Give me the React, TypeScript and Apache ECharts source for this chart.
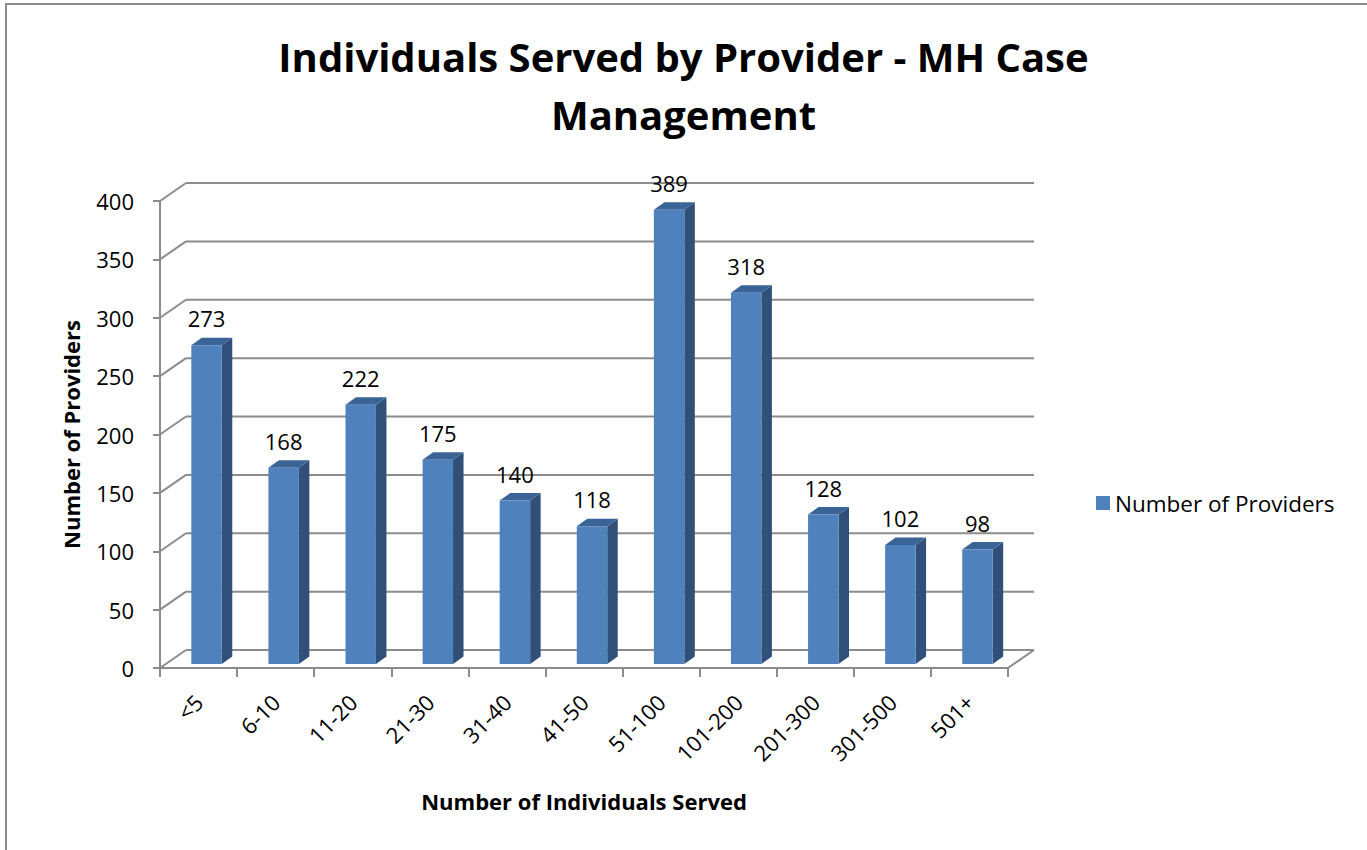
import React, { useEffect, useRef } from "react";
import * as echarts from "echarts";

const categories = ["<5", "6-10", "11-20", "21-30", "31-40", "41-50", "51-100", "101-200", "201-300", "301-500", "501+"];
const providers = [273, 168, 222, 175, 140, 118, 389, 318, 128, 102, 98];
const yTicks = [0, 50, 100, 150, 200, 250, 300, 350, 400];

const seriesName = "Number of Providers";
const titleText = "Individuals Served by Provider - MH Case\nManagement";
const xAxisTitle = "Number of Individuals Served";
const yAxisTitle = "Number of Providers";

const FONT = "'Open Sans', Lato, sans-serif";
const GRID_COLOR = "#8c8c8c";
const DX = 26;
const DY = -18;

export default function App() {
  const ref = useRef<HTMLDivElement>(null);
  useEffect(() => {
    if (!ref.current) return;
    const chart = echarts.init(ref.current, undefined, { renderer: "svg" });
    const option: any = {
      animation: false,
      backgroundColor: "#ffffff",
      title: {
        text: titleText,
        left: "center",
        top: 27,
        padding: [0, 0, 0, 9],
        textStyle: { fontFamily: FONT, fontWeight: "bold", fontSize: 40, lineHeight: 58, color: "#000" },
      },
      legend: {
        data: [seriesName],
        left: 1091,
        top: 486,
        icon: "rect",
        itemWidth: 14,
        itemHeight: 14,
        textStyle: { fontFamily: FONT, fontSize: 22.5, color: "#000", lineHeight: 24 },
      },
      graphic: [
        {
          type: "rect",
          shape: { x: 6, y: 4, width: 1500, height: 1000 },
          style: { fill: "none", stroke: GRID_COLOR, lineWidth: 2 },
          silent: true,
        },
      ],
      grid: { left: 160, right: 359, top: 201, bottom: 182, containLabel: false },
      xAxis: {
        type: "category",
        data: categories,
        name: xAxisTitle,
        nameLocation: "middle",
        nameGap: 122,
        nameTextStyle: { fontFamily: FONT, fontWeight: "bold", fontSize: 22, color: "#000" },
        axisLine: { show: true, lineStyle: { color: GRID_COLOR, width: 2 } },
        axisTick: { show: true, length: 9, lineStyle: { color: GRID_COLOR, width: 2 } },
        axisLabel: { rotate: 45, margin: 30, fontFamily: FONT, fontSize: 22, color: "#000", interval: 0 },
        splitLine: { show: false },
      },
      yAxis: {
        type: "value",
        min: 0,
        max: 400,
        interval: 50,
        name: yAxisTitle,
        nameLocation: "middle",
        nameRotate: 90,
        nameGap: 78,
        nameTextStyle: { fontFamily: FONT, fontWeight: "bold", fontSize: 22, color: "#000" },
        axisLine: { show: true, lineStyle: { color: GRID_COLOR, width: 2 } },
        axisTick: { show: true, length: 7, lineStyle: { color: GRID_COLOR, width: 2 } },
        axisLabel: { margin: 26, fontFamily: FONT, fontSize: 22, color: "#000" },
        splitLine: { show: false },
      },
      series: [
        {
          type: "custom",
          name: "walls",
          silent: true,
          z: 1,
          data: yTicks.map((v) => [0, v]),
          encode: { x: 0, y: 1 },
          renderItem: (params: any, api: any) => {
            const v = api.value(1);
            const cs = params.coordSys;
            const yF = api.coord([0, v])[1];
            const x0 = cs.x;
            const x1 = cs.x + cs.width;
            const style = { stroke: GRID_COLOR, lineWidth: 2, fill: "none" };
            const children: any[] = [
              { type: "line", shape: { x1: x0, y1: yF, x2: x0 + DX, y2: yF + DY }, style },
              { type: "line", shape: { x1: x0 + DX, y1: yF + DY, x2: x1 + DX, y2: yF + DY }, style },
            ];
            if (v === 0) {
              children.push({ type: "line", shape: { x1: x1, y1: yF, x2: x1 + DX, y2: yF + DY }, style });
            }
            return { type: "group", children };
          },
        },
        {
          type: "custom",
          name: seriesName,
          z: 3,
          itemStyle: { color: "#4F81BD" },
          data: providers.map((v, i) => [i, v]),
          encode: { x: 0, y: 1 },
          renderItem: (params: any, api: any) => {
            const i = api.value(0);
            const v = api.value(1);
            const top = api.coord([i, v]);
            const base = api.coord([i, 0]);
            const band = api.size([1, 0])[0];
            const bw = band * 0.395;
            const cx = top[0] + 8;
            const oy = -4;
            const xl = cx - bw / 2;
            const xr = cx + bw / 2;
            const yt = top[1] + oy;
            const yb = base[1] + oy;
            const sdx = 10.5;
            const sdy = -7.5;
            return {
              type: "group",
              children: [
                {
                  type: "polygon",
                  shape: { points: [[xr, yb], [xr, yt], [xr + sdx, yt + sdy], [xr + sdx, yb + sdy]] },
                  style: { fill: "#30507A" },
                },
                {
                  type: "polygon",
                  shape: { points: [[xl, yt], [xr, yt], [xr + sdx, yt + sdy], [xl + sdx, yt + sdy]] },
                  style: { fill: "#3A6496" },
                },
                {
                  type: "rect",
                  shape: { x: xl, y: yt, width: bw, height: yb - yt },
                  style: { fill: "#4F81BD" },
                },
                {
                  type: "text",
                  x: cx,
                  y: yt - 27,
                  style: {
                    text: String(v),
                    fontFamily: FONT,
                    fontSize: 22,
                    fill: "#000",
                    align: "center",
                    verticalAlign: "middle",
                  },
                },
              ],
            };
          },
        },
      ],
    };
    chart.setOption(option);
    return () => chart.dispose();
  }, []);
  return (
    <div
      ref={ref}
      style={{ position: "fixed", left: 0, top: 0, width: 1367, height: 850, background: "#fff" }}
    />
  );
}
